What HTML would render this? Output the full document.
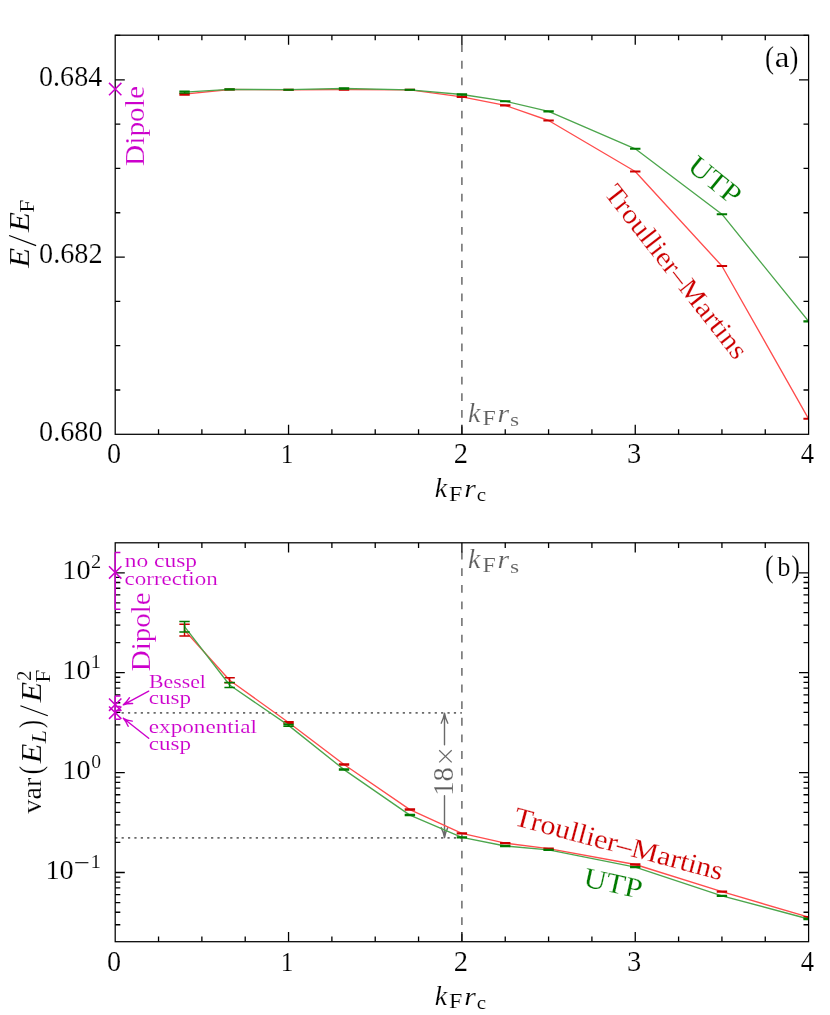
<!DOCTYPE html>
<html><head><meta charset="utf-8"><title>plot</title><style>html,body{margin:0;padding:0;background:#fff}svg{display:block}</style></head><body>
<svg style="will-change:transform" width="830" height="1015" viewBox="0 0 830 1015" font-family="'Liberation Serif', serif">
<rect width="830" height="1015" fill="#fff"/>
<defs><clipPath id="ca"><rect x="115.2" y="35.2" width="693.4" height="399.1"/></clipPath><clipPath id="cb"><rect x="115.2" y="542.8" width="693.4" height="398.9"/></clipPath></defs>
<line x1="461.9" y1="434.3" x2="461.9" y2="35.2" stroke="#6a6a6a" stroke-width="1.5" stroke-dasharray="7.8 8.82"/>
<g clip-path="url(#ca)">
<polyline points="184.54,94.2 229.61,89.5 288.55,89.8 344.02,89.5 409.89,89.9 461.9,96.8 505.24,105.4 548.58,120.5 635.25,171.5 721.93,266 808.6,418.8" fill="none" stroke="#ff4d4d" stroke-width="1.35" stroke-linejoin="round"/>
<path d="M179.34 93.4h10.4M179.34 95h10.4M184.54 93.4V95M224.41 89.15h10.4M224.41 89.85h10.4M229.61 89.15V89.85M283.35 89.5h10.4M283.35 90.1h10.4M288.55 89.5V90.1M338.82 89.05h10.4M338.82 89.95h10.4M344.02 89.05V89.95M404.69 89.6h10.4M404.69 90.2h10.4M409.89 89.6V90.2M456.7 96.4h10.4M456.7 97.2h10.4M461.9 96.4V97.2M500.04 105.1h10.4M500.04 105.7h10.4M505.24 105.1V105.7M543.38 120.2h10.4M543.38 120.8h10.4M548.58 120.2V120.8M630.05 171.2h10.4M630.05 171.8h10.4M635.25 171.2V171.8M716.73 265.7h10.4M716.73 266.3h10.4M721.93 265.7V266.3M803.4 418.5h10.4M803.4 419.1h10.4M808.6 418.5V419.1" stroke="#cc0000" stroke-width="1.5" fill="none"/>
<polyline points="184.54,92.1 229.61,89.4 288.55,89.7 344.02,88.5 409.89,89.8 461.9,94.5 505.24,101.2 548.58,111.4 635.25,148.8 721.93,214.2 808.6,321.4" fill="none" stroke="#4da64d" stroke-width="1.35" stroke-linejoin="round"/>
<path d="M179.34 91.3h10.4M179.34 92.9h10.4M184.54 91.3V92.9M224.41 89.05h10.4M224.41 89.75h10.4M229.61 89.05V89.75M283.35 89.4h10.4M283.35 90h10.4M288.55 89.4V90M338.82 88.05h10.4M338.82 88.95h10.4M344.02 88.05V88.95M404.69 89.5h10.4M404.69 90.1h10.4M409.89 89.5V90.1M456.7 94.1h10.4M456.7 94.9h10.4M461.9 94.1V94.9M500.04 100.9h10.4M500.04 101.5h10.4M505.24 100.9V101.5M543.38 111.1h10.4M543.38 111.7h10.4M548.58 111.1V111.7M630.05 148.5h10.4M630.05 149.1h10.4M635.25 148.5V149.1M716.73 213.9h10.4M716.73 214.5h10.4M721.93 213.9V214.5M803.4 321.1h10.4M803.4 321.7h10.4M808.6 321.1V321.7" stroke="#007a00" stroke-width="1.5" fill="none"/>
</g>
<path d="M158.54 434.3v-5.1M158.54 35.2v5.1M201.88 434.3v-5.1M201.88 35.2v5.1M245.21 434.3v-5.1M245.21 35.2v5.1M288.55 434.3v-9.6M288.55 35.2v9.6M331.89 434.3v-5.1M331.89 35.2v5.1M375.22 434.3v-5.1M375.22 35.2v5.1M418.56 434.3v-5.1M418.56 35.2v5.1M461.9 434.3v-9.6M461.9 35.2v9.6M505.24 434.3v-5.1M505.24 35.2v5.1M548.58 434.3v-5.1M548.58 35.2v5.1M591.91 434.3v-5.1M591.91 35.2v5.1M635.25 434.3v-9.6M635.25 35.2v9.6M678.59 434.3v-5.1M678.59 35.2v5.1M721.93 434.3v-5.1M721.93 35.2v5.1M765.26 434.3v-5.1M765.26 35.2v5.1" stroke="#000" stroke-width="1.3" fill="none"/>
<path d="M115.2 389.99h5.1M808.6 389.99h-5.1M115.2 345.67h5.1M808.6 345.67h-5.1M115.2 301.36h5.1M808.6 301.36h-5.1M115.2 257.04h9.6M808.6 257.04h-9.6M115.2 212.73h5.1M808.6 212.73h-5.1M115.2 168.41h5.1M808.6 168.41h-5.1M115.2 124.1h5.1M808.6 124.1h-5.1M115.2 79.78h9.6M808.6 79.78h-9.6M115.2 35.47h5.1M808.6 35.47h-5.1" stroke="#000" stroke-width="1.3" fill="none"/>
<rect x="115.2" y="35.2" width="693.4" height="399.1" fill="none" stroke="#000" stroke-width="1.25"/>
<path d="M109 82.9L121.4 95.3M109 95.3L121.4 82.9" stroke="#cc00cc" stroke-width="1.5" fill="none"/>
<text transform="translate(39.05 86.04) scale(1.0028 1.0368)" font-size="28" stroke="#fff" stroke-width="0.18">0.684</text>
<text transform="translate(39.04 263.3) scale(1.0099 1.0368)" font-size="28" stroke="#fff" stroke-width="0.18">0.682</text>
<text transform="translate(39.04 440.56) scale(1.0098 1.0368)" font-size="28" stroke="#fff" stroke-width="0.18">0.680</text>
<text transform="translate(107.09 463.25) scale(1.0083 1.0146)" font-size="28" stroke="#fff" stroke-width="0.18">0</text>
<text transform="translate(280.8 463.1) scale(0.9013 1.0135)" font-size="28" stroke="#fff" stroke-width="0.19">1</text>
<text transform="translate(453.82 463.1) scale(1.0222 1.0135)" font-size="28" stroke="#fff" stroke-width="0.18">2</text>
<text transform="translate(626.95 463.24) scale(1.0174 1.0213)" font-size="28" stroke="#fff" stroke-width="0.18">3</text>
<text transform="translate(800.82 463.1) scale(0.9524 1.0204)" font-size="28" stroke="#fff" stroke-width="0.18">4</text>
<g transform="translate(0 0)">
<text transform="translate(434.7 497.15) scale(0.9979 0.9755)" font-size="28" font-style="italic" stroke="#fff" stroke-width="0.18">k</text>
<text transform="translate(449.02 500.95) scale(1.17 1.0019)" font-size="20.45" stroke="#fff" stroke-width="0.12">F</text>
<text transform="translate(464.15 497.15) scale(1.0633 0.883)" font-size="28" font-style="italic" stroke="#fff" stroke-width="0.18">r</text>
<text transform="translate(476.78 501.41) scale(1.0323 0.9418)" font-size="20.45" stroke="#fff" stroke-width="0.13">c</text>
</g>
<g transform="translate(33.4 -75.5)" fill="#5e5e5e">
<text transform="translate(434.7 497.15) scale(0.9979 0.9755)" font-size="28" font-style="italic" stroke="#fff" stroke-width="0.18">k</text>
<text transform="translate(449.02 500.95) scale(1.17 1.0019)" font-size="20.45" stroke="#fff" stroke-width="0.12">F</text>
<text transform="translate(464.15 497.15) scale(1.0633 0.883)" font-size="28" font-style="italic" stroke="#fff" stroke-width="0.18">r</text>
<text transform="translate(476.65 501.41) scale(1.1451 0.9418)" font-size="20.45" stroke="#fff" stroke-width="0.13">s</text>
</g>
<text transform="translate(765.04 67.7) scale(0.9684 1.0916)" font-size="28" stroke="#fff" stroke-width="0.17">(</text>
<text transform="translate(774.87 67.29) scale(1.1818 1.0467)" font-size="28" stroke="#fff" stroke-width="0.16">a</text>
<text transform="translate(789.52 67.7) scale(0.9517 1.0916)" font-size="28" stroke="#fff" stroke-width="0.18">)</text>
<g transform="translate(144.2 165.4) rotate(-90)" fill="#cc00cc">
<text transform="translate(-0.54 -0.34) scale(1.0483 0.9655)" font-size="28" stroke="#fff" stroke-width="0.18">Dipole</text>
</g>
<g transform="translate(686.5 169.1) rotate(39)" fill="#007a00">
<text transform="translate(-0.7 0.05) scale(1.122 1.0094)" font-size="28" stroke="#fff" stroke-width="0.17">UTP</text>
</g>
<g transform="translate(603.2 193.3) rotate(51.8)" fill="#cc0000">
<text transform="translate(-0.03 0.06) scale(1.0695 0.9783)" font-size="28" stroke="#fff" stroke-width="0.18">Troullier–Martins</text>
</g>
<g transform="translate(29.7 268.5) rotate(-90)">
<text transform="translate(0.69 -0.25) scale(1.1706 1.0585)" font-size="28" font-style="italic" stroke="#fff" stroke-width="0.16">E</text>
<path d="M22.9 6.4L33.0 -20.6" stroke="#000" stroke-width="1.15" fill="none"/>
<text transform="translate(36.59 -0.25) scale(1.1706 1.0585)" font-size="28" font-style="italic" stroke="#fff" stroke-width="0.16">E</text>
<text transform="translate(55.83 4.15) scale(1.15 1.0243)" font-size="20.45" stroke="#fff" stroke-width="0.12">F</text>
</g>
<line x1="461.9" y1="941.7" x2="461.9" y2="542.8" stroke="#6a6a6a" stroke-width="1.5" stroke-dasharray="7.8 8.82"/>
<path d="M115.2 712.9H461.9M115.2 837.9H461.9" stroke="#6a6a6a" stroke-width="1.6" stroke-dasharray="2.2 4.19" fill="none"/>
<path d="M444.5 744.8L444.5 713.2M447.8 723.2Q445.09 717.7 444.5 713.2Q443.91 717.7 441.2 723.2" stroke="#6a6a6a" stroke-width="1.4" fill="none" stroke-linejoin="round" stroke-linecap="round"/>
<path d="M444.5 795.8L444.5 837.6M441.2 827.6Q443.91 833.1 444.5 837.6Q445.09 833.1 447.8 827.6" stroke="#6a6a6a" stroke-width="1.4" fill="none" stroke-linejoin="round" stroke-linecap="round"/>
<g transform="translate(453.3 793.4) rotate(-90)" fill="#5e5e5e">
<text transform="translate(-2.29 -0.11) scale(1.0163 1.0384)" font-size="28" stroke="#fff" stroke-width="0.18">18</text>
<path d="M31 -14.1L43.1 -1.6M31 -1.6L43.1 -14.1" stroke="#6a6a6a" stroke-width="1.25" fill="none"/>
</g>
<g clip-path="url(#cb)">
<polyline points="184.54,630.2 229.61,680.3 288.55,722.5 344.02,764.5 409.89,809.6 461.9,833.4 505.24,843.2 548.58,848.6 635.25,864.5 721.93,891.6 808.6,917.2" fill="none" stroke="#ff4d4d" stroke-width="1.35" stroke-linejoin="round"/>
<path d="M179.34 624.3h10.4M179.34 636.1h10.4M184.54 624.3V636.1M224.41 677.8h10.4M224.41 682.8h10.4M229.61 677.8V682.8M283.35 721.7h10.4M283.35 723.3h10.4M288.55 721.7V723.3M338.82 764h10.4M338.82 765h10.4M344.02 764V765M404.69 809.1h10.4M404.69 810.1h10.4M409.89 809.1V810.1M456.7 833h10.4M456.7 833.8h10.4M461.9 833V833.8M500.04 842.8h10.4M500.04 843.6h10.4M505.24 842.8V843.6M543.38 848.3h10.4M543.38 848.9h10.4M548.58 848.3V848.9M630.05 864.1h10.4M630.05 864.9h10.4M635.25 864.1V864.9M716.73 891.2h10.4M716.73 892h10.4M721.93 891.2V892M803.4 916.8h10.4M803.4 917.6h10.4M808.6 916.8V917.6" stroke="#cc0000" stroke-width="1.5" fill="none"/>
<polyline points="184.54,626.7 229.61,685 288.55,725.4 344.02,769.6 409.89,815.1 461.9,837.4 505.24,846 548.58,849.9 635.25,867.1 721.93,895.8 808.6,919" fill="none" stroke="#4da64d" stroke-width="1.35" stroke-linejoin="round"/>
<path d="M179.34 621.5h10.4M179.34 631.9h10.4M184.54 621.5V631.9M224.41 682.5h10.4M224.41 687.5h10.4M229.61 682.5V687.5M283.35 724.6h10.4M283.35 726.2h10.4M288.55 724.6V726.2M338.82 769.1h10.4M338.82 770.1h10.4M344.02 769.1V770.1M404.69 814.6h10.4M404.69 815.6h10.4M409.89 814.6V815.6M456.7 837h10.4M456.7 837.8h10.4M461.9 837V837.8M500.04 845.6h10.4M500.04 846.4h10.4M505.24 845.6V846.4M543.38 849.6h10.4M543.38 850.2h10.4M548.58 849.6V850.2M630.05 866.7h10.4M630.05 867.5h10.4M635.25 866.7V867.5M716.73 895.4h10.4M716.73 896.2h10.4M721.93 895.4V896.2M803.4 918.6h10.4M803.4 919.4h10.4M808.6 918.6V919.4" stroke="#007a00" stroke-width="1.5" fill="none"/>
</g>
<path d="M158.54 941.7v-5.1M158.54 542.8v5.1M201.88 941.7v-5.1M201.88 542.8v5.1M245.21 941.7v-5.1M245.21 542.8v5.1M288.55 941.7v-9.6M288.55 542.8v9.6M331.89 941.7v-5.1M331.89 542.8v5.1M375.22 941.7v-5.1M375.22 542.8v5.1M418.56 941.7v-5.1M418.56 542.8v5.1M461.9 941.7v-9.6M461.9 542.8v9.6M505.24 941.7v-5.1M505.24 542.8v5.1M548.58 941.7v-5.1M548.58 542.8v5.1M591.91 941.7v-5.1M591.91 542.8v5.1M635.25 941.7v-9.6M635.25 542.8v9.6M678.59 941.7v-5.1M678.59 542.8v5.1M721.93 941.7v-5.1M721.93 542.8v5.1M765.26 941.7v-5.1M765.26 542.8v5.1" stroke="#000" stroke-width="1.3" fill="none"/>
<path d="M115.2 924.74h5.1M808.6 924.74h-5.1M115.2 912.25h5.1M808.6 912.25h-5.1M115.2 902.57h5.1M808.6 902.57h-5.1M115.2 894.66h5.1M808.6 894.66h-5.1M115.2 887.97h5.1M808.6 887.97h-5.1M115.2 882.18h5.1M808.6 882.18h-5.1M115.2 877.07h5.1M808.6 877.07h-5.1M115.2 872.5h9.6M808.6 872.5h-9.6M115.2 842.43h5.1M808.6 842.43h-5.1M115.2 824.84h5.1M808.6 824.84h-5.1M115.2 812.35h5.1M808.6 812.35h-5.1M115.2 802.67h5.1M808.6 802.67h-5.1M115.2 794.76h5.1M808.6 794.76h-5.1M115.2 788.07h5.1M808.6 788.07h-5.1M115.2 782.28h5.1M808.6 782.28h-5.1M115.2 777.17h5.1M808.6 777.17h-5.1M115.2 772.6h9.6M808.6 772.6h-9.6M115.2 742.53h5.1M808.6 742.53h-5.1M115.2 724.94h5.1M808.6 724.94h-5.1M115.2 712.45h5.1M808.6 712.45h-5.1M115.2 702.77h5.1M808.6 702.77h-5.1M115.2 694.86h5.1M808.6 694.86h-5.1M115.2 688.17h5.1M808.6 688.17h-5.1M115.2 682.38h5.1M808.6 682.38h-5.1M115.2 677.27h5.1M808.6 677.27h-5.1M115.2 672.7h9.6M808.6 672.7h-9.6M115.2 642.63h5.1M808.6 642.63h-5.1M115.2 625.04h5.1M808.6 625.04h-5.1M115.2 612.55h5.1M808.6 612.55h-5.1M115.2 602.87h5.1M808.6 602.87h-5.1M115.2 594.96h5.1M808.6 594.96h-5.1M115.2 588.27h5.1M808.6 588.27h-5.1M115.2 582.48h5.1M808.6 582.48h-5.1M115.2 577.37h5.1M808.6 577.37h-5.1M115.2 572.8h9.6M808.6 572.8h-9.6" stroke="#000" stroke-width="1.3" fill="none"/>
<rect x="115.2" y="542.8" width="693.4" height="398.9" fill="none" stroke="#000" stroke-width="1.25"/>
<path d="M115.2 552.6V609.3M115.2 552.6h5.2M115.2 609.3h5.2M115.2 696V710.5M115.2 696h5.2M115.2 710.5h5.2M115.2 706.5V719.2M115.2 706.5h5.2M115.2 719.2h5.2" stroke="#cc00cc" stroke-width="1.5" fill="none"/>
<path d="M109 566.2L121.4 578.6M109 578.6L121.4 566.2" stroke="#cc00cc" stroke-width="1.5" fill="none"/>
<path d="M109 698.5L121.4 710.9M109 710.9L121.4 698.5" stroke="#cc00cc" stroke-width="1.5" fill="none"/>
<path d="M109 706.5L121.4 718.9M109 718.9L121.4 706.5" stroke="#cc00cc" stroke-width="1.5" fill="none"/>
<path d="M148.7 691.2L123.3 704.8M129.5 697.74Q126.51 702.41 123.3 704.8Q127.07 703.45 132.62 703.56" stroke="#cc00cc" stroke-width="1.4" fill="none" stroke-linejoin="round" stroke-linecap="round"/>
<path d="M148.7 738.3L123.3 718.3M132.26 721.15Q126.78 720.28 123.3 718.3Q126.04 721.22 128.17 726.34" stroke="#cc00cc" stroke-width="1.4" fill="none" stroke-linejoin="round" stroke-linecap="round"/>
<g fill="#cc00cc">
<text transform="translate(124.85 567) scale(1.1949 1)" font-size="19.6" stroke="#fff" stroke-width="0.11">no cusp</text>
<text transform="translate(124.57 584.8) scale(1.172 1)" font-size="19.6" stroke="#fff" stroke-width="0.12">correction</text>
<text transform="translate(149.1 687.6) scale(1.1097 1)" font-size="19.6" stroke="#fff" stroke-width="0.12">Bessel</text>
<text transform="translate(148.77 704) scale(1.1782 1)" font-size="19.6" stroke="#fff" stroke-width="0.12">cusp</text>
<text transform="translate(148.76 733) scale(1.1845 1)" font-size="19.6" stroke="#fff" stroke-width="0.12">exponential</text>
<text transform="translate(148.77 750.2) scale(1.1782 1)" font-size="19.6" stroke="#fff" stroke-width="0.12">cusp</text>
</g>
<g transform="translate(151 670.6) rotate(-90)" fill="#cc00cc">
<text transform="translate(-0.53 -0.94) scale(1.0349 0.9655)" font-size="28" stroke="#fff" stroke-width="0.18">Dipole</text>
</g>
<text transform="translate(62.22 578.9) scale(1.0122 1.0066)" font-size="28" stroke="#fff" stroke-width="0.18">10</text>
<text transform="translate(90.98 567.75) scale(0.9939 0.9174)" font-size="20.45" stroke="#fff" stroke-width="0.14">2</text>
<text transform="translate(62.22 678.8) scale(1.0122 1.0066)" font-size="28" stroke="#fff" stroke-width="0.18">10</text>
<text transform="translate(90.81 667.75) scale(0.9931 0.9407)" font-size="20.45" stroke="#fff" stroke-width="0.14">1</text>
<text transform="translate(62.22 778.7) scale(1.0122 1.0066)" font-size="28" stroke="#fff" stroke-width="0.18">10</text>
<text transform="translate(91.23 767.72) scale(0.96 0.9369)" font-size="20.45" stroke="#fff" stroke-width="0.14">0</text>
<text transform="translate(45.42 878.6) scale(1.0122 1.0066)" font-size="28" stroke="#fff" stroke-width="0.18">10</text>
<path d="M75.2 862.7H88.4" stroke="#000" stroke-width="1.1"/>
<text transform="translate(90.56 867.55) scale(1.0207 0.9481)" font-size="20.45" stroke="#fff" stroke-width="0.13">1</text>
<text transform="translate(107.09 970.65) scale(1.0083 1.0146)" font-size="28" stroke="#fff" stroke-width="0.18">0</text>
<text transform="translate(280.8 970.5) scale(0.9013 1.0135)" font-size="28" stroke="#fff" stroke-width="0.19">1</text>
<text transform="translate(453.82 970.5) scale(1.0222 1.0135)" font-size="28" stroke="#fff" stroke-width="0.18">2</text>
<text transform="translate(626.95 970.64) scale(1.0174 1.0213)" font-size="28" stroke="#fff" stroke-width="0.18">3</text>
<text transform="translate(800.82 970.5) scale(0.9524 1.0204)" font-size="28" stroke="#fff" stroke-width="0.18">4</text>
<g transform="translate(0 507.4)">
<text transform="translate(434.7 497.15) scale(0.9979 0.9755)" font-size="28" font-style="italic" stroke="#fff" stroke-width="0.18">k</text>
<text transform="translate(449.02 500.95) scale(1.17 1.0019)" font-size="20.45" stroke="#fff" stroke-width="0.12">F</text>
<text transform="translate(464.15 497.15) scale(1.0633 0.883)" font-size="28" font-style="italic" stroke="#fff" stroke-width="0.18">r</text>
<text transform="translate(476.78 501.41) scale(1.0323 0.9418)" font-size="20.45" stroke="#fff" stroke-width="0.13">c</text>
</g>
<g transform="translate(33.4 71.1)" fill="#5e5e5e">
<text transform="translate(434.7 497.15) scale(0.9979 0.9755)" font-size="28" font-style="italic" stroke="#fff" stroke-width="0.18">k</text>
<text transform="translate(449.02 500.95) scale(1.17 1.0019)" font-size="20.45" stroke="#fff" stroke-width="0.12">F</text>
<text transform="translate(464.15 497.15) scale(1.0633 0.883)" font-size="28" font-style="italic" stroke="#fff" stroke-width="0.18">r</text>
<text transform="translate(476.65 501.41) scale(1.1451 0.9418)" font-size="20.45" stroke="#fff" stroke-width="0.13">s</text>
</g>
<text transform="translate(765.09 576.5) scale(0.9263 1.0916)" font-size="28" stroke="#fff" stroke-width="0.18">(</text>
<text transform="translate(777.15 576.31) scale(0.9462 0.9732)" font-size="28" stroke="#fff" stroke-width="0.19">b</text>
<text transform="translate(791.23 576.5) scale(0.9379 1.0916)" font-size="28" stroke="#fff" stroke-width="0.18">)</text>
<g transform="translate(582.9 886) rotate(12.5)" fill="#007a00">
<text transform="translate(-0.7 0.05) scale(1.122 1.0094)" font-size="28" stroke="#fff" stroke-width="0.17">UTP</text>
</g>
<g transform="translate(512.5 824.8) rotate(14.9)" fill="#cc0000">
<text transform="translate(-0.04 0.06) scale(1.0791 0.9783)" font-size="28" stroke="#fff" stroke-width="0.17">Troullier–Martins</text>
</g>
<g transform="translate(41.4 813.7) rotate(-90)">
<text transform="translate(0.25 -0.19) scale(1 0.9778)" font-size="28" stroke="#fff" stroke-width="0.18">var</text>
<text transform="translate(39.34 -0.1) scale(0.8842 1.0916)" font-size="28" stroke="#fff" stroke-width="0.18">(</text>
<text transform="translate(50.48 -0.25) scale(1.1529 1.0177)" font-size="28" font-style="italic" stroke="#fff" stroke-width="0.17">E</text>
<text transform="translate(70.44 4.15) scale(1.1671 1.0243)" font-size="20.45" font-style="italic" stroke="#fff" stroke-width="0.12">L</text>
<text transform="translate(85.8 -0.1) scale(0.8552 1.0916)" font-size="28" stroke="#fff" stroke-width="0.18">)</text>
<path d="M97.9 6.4L108.0 -21.0" stroke="#000" stroke-width="1.15" fill="none"/>
<text transform="translate(111.4 -0.25) scale(1.1941 1.0177)" font-size="28" font-style="italic" stroke="#fff" stroke-width="0.16">E</text>
<text transform="translate(131.03 8.55) scale(1.15 1.0542)" font-size="20.45" stroke="#fff" stroke-width="0.12">F</text>
<text transform="translate(132.66 -10.45) scale(1.0182 1.0055)" font-size="20.45" stroke="#fff" stroke-width="0.13">2</text>
</g>
</svg>
</body></html>
